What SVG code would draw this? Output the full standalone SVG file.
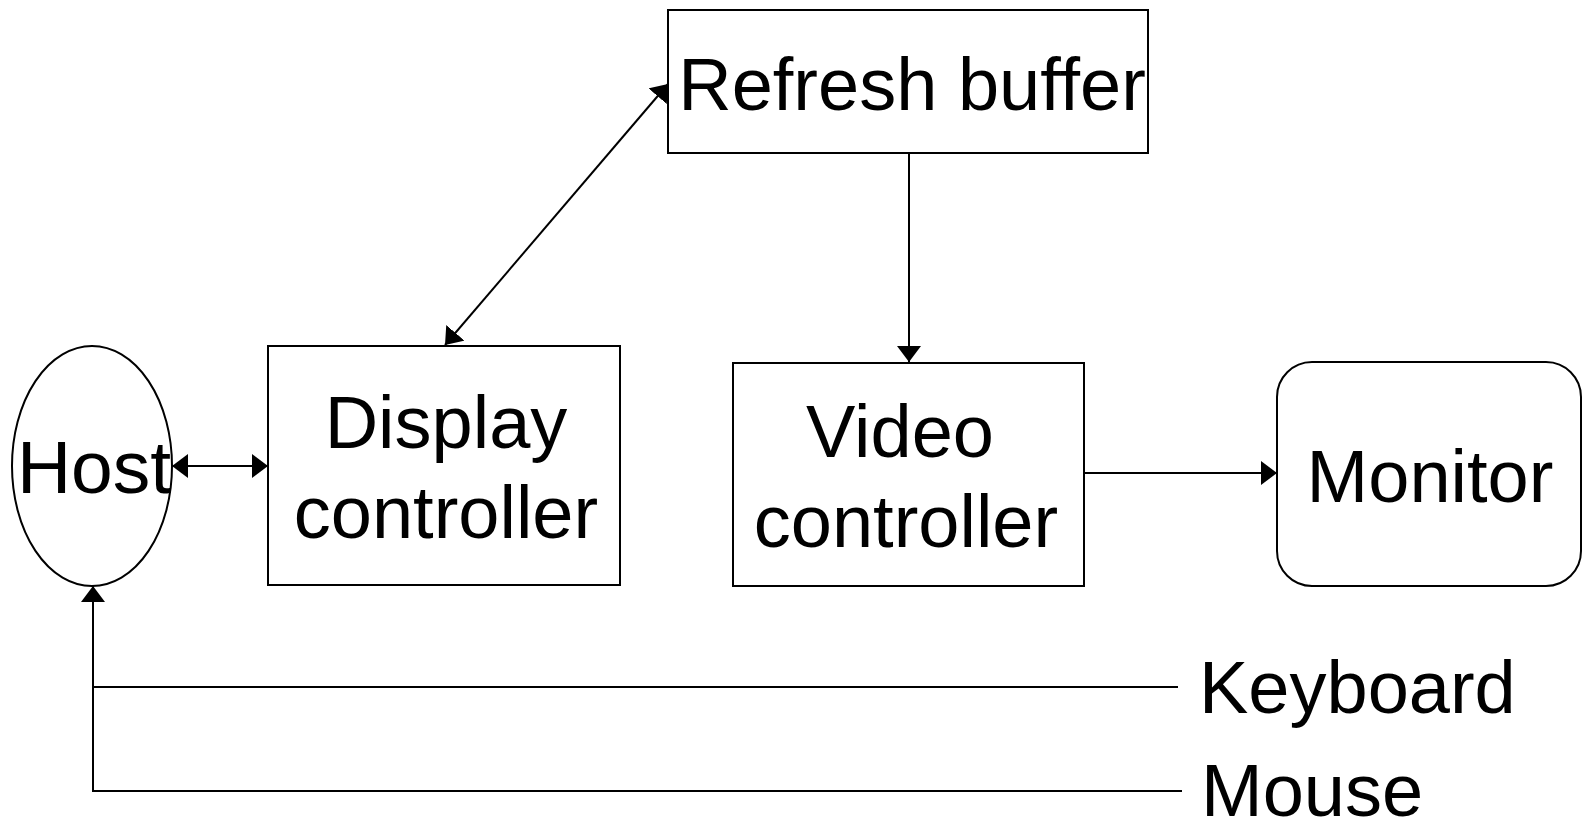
<svg xmlns="http://www.w3.org/2000/svg" width="1588" height="819" viewBox="0 0 1588 819">
  <style>
    .shape { fill: #ffffff; stroke: #000000; stroke-width: 2; }
    .wire { fill: none; stroke: #000000; stroke-width: 2; }
    .label { font-family: "Liberation Sans", Arial, sans-serif; font-size: 74px; fill: #000000; }
    .mid { text-anchor: middle; }
  </style>
  <defs>
    <marker id="head" viewBox="0 0 16 24" refX="16" refY="12" markerWidth="16" markerHeight="24" markerUnits="userSpaceOnUse" orient="auto-start-reverse">
      <path d="M0,0 L16,12 L0,24 Z" fill="#000000"/>
    </marker>
  </defs>

  <rect width="1588" height="819" fill="#ffffff"/>

  <!-- connectors -->
  <g id="connectors">
    <line class="wire" x1="172" y1="466" x2="268" y2="466" marker-start="url(#head)" marker-end="url(#head)"/>
    <line class="wire" x1="445" y1="345" x2="668" y2="84" marker-start="url(#head)" marker-end="url(#head)"/>
    <line class="wire" x1="909" y1="153" x2="909" y2="362" marker-end="url(#head)"/>
    <line class="wire" x1="1084" y1="473" x2="1277" y2="473" marker-end="url(#head)"/>
    <path class="wire" d="M1178,687 H93"/>
    <path class="wire" d="M1182,791 H93 V586" marker-end="url(#head)"/>
  </g>

  <!-- nodes -->
  <g id="host">
    <ellipse class="shape" cx="92" cy="466" rx="80" ry="120"/>
    <text class="label mid" x="94" y="493" style="font-size:75px">Host</text>
  </g>

  <g id="display-controller">
    <rect class="shape" x="268" y="346" width="352" height="239"/>
    <text class="label mid" x="446" y="448">Display</text>
    <text class="label mid" x="446" y="538">controller</text>
  </g>

  <g id="refresh-buffer">
    <rect class="shape" x="668" y="10" width="480" height="143"/>
    <text class="label mid" x="912" y="110">Refresh buffer</text>
  </g>

  <g id="video-controller">
    <rect class="shape" x="733" y="363" width="351" height="223"/>
    <text class="label mid" x="900" y="457">Video</text>
    <text class="label mid" x="906" y="547">controller</text>
  </g>

  <g id="monitor">
    <rect class="shape" x="1277" y="362" width="304" height="224" rx="35" ry="35"/>
    <text class="label mid" x="1430" y="502">Monitor</text>
  </g>

  <g id="keyboard">
    <text class="label" x="1199" y="713">Keyboard</text>
  </g>

  <g id="mouse">
    <text class="label" x="1201" y="816">Mouse</text>
  </g>
</svg>
